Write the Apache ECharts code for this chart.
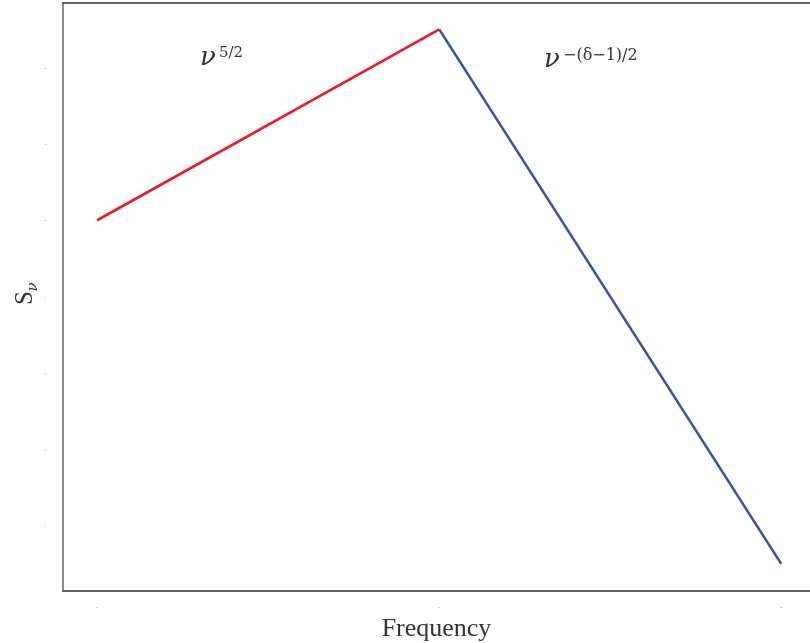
<!DOCTYPE html>
<html>
<head>
<meta charset="utf-8">
<script src="https://cdn.jsdelivr.net/npm/echarts@6/dist/echarts.min.js"></script>
<style>
  html, body { margin: 0; padding: 0; background: #fff; }
  #chart { width: 810px; height: 643px; }
</style>
</head>
<body>
<div id="chart"></div>
<script>
// Broken power-law spectrum, log frequency vs log flux density
const logFreq = [0, 1, 2];
const risingFlux = [4, 6.5];     // optically thick part, slope 5/2
const fallingFlux = [6.5, -0.5]; // optically thin part
const xTicks = [0, 1, 2];
const yTicks = [0, 1, 2, 3, 4, 5, 6];

const serif = '"Liberation Serif", "DejaVu Serif", serif';
const mathSerif = '"DejaVu Serif", "Liberation Serif", serif';

const chart = echarts.init(document.getElementById('chart'));

const tickMark = {
  show: true,
  formatter: () => '-',
  fontSize: 8,
  color: '#b0b0b0'
};

chart.setOption({
  animation: false,
  backgroundColor: '#fff',
  grid: { left: 63, right: 0, top: 3, bottom: 52, containLabel: false, outerBoundsMode: 'none' },
  xAxis: [{
    type: 'value',
    min: -0.1,
    max: 2.084,
    position: 'bottom',
    splitLine: { show: false },
    axisTick: { show: false },
    axisLine: { show: true, onZero: false, lineStyle: { color: '#333', width: 1.5 } },
    axisLabel: Object.assign({ customValues: xTicks, margin: 12 }, tickMark),
    name: 'Frequency',
    nameLocation: 'middle',
    nameGap: 24,
    nameTextStyle: { fontFamily: serif, fontSize: 26, color: '#333', verticalAlign: 'top' }
  }, {
    type: 'value',
    min: -0.1,
    max: 2.084,
    position: 'top',
    splitLine: { show: false },
    axisTick: { show: false },
    axisLabel: { show: false },
    axisLine: { show: true, onZero: false, lineStyle: { color: '#333', width: 1.5 } }
  }],
  yAxis: {
    type: 'value',
    min: -0.855,
    max: 6.845,
    position: 'left',
    splitLine: { show: false },
    axisTick: { show: false },
    axisLine: { show: true, onZero: false, lineStyle: { color: '#8a8a8a', width: 2 } },
    axisLabel: Object.assign({ customValues: yTicks, margin: 16 }, tickMark)
  },
  graphic: [
    // y-axis label S_nu, rotated
    { type: 'text', x: 25, y: 298, rotation: Math.PI / 2,
      style: { text: 'S', font: '25px ' + serif, fill: '#333', align: 'center', verticalAlign: 'middle' } },
    { type: 'text', x: 33, y: 287, rotation: Math.PI / 2,
      style: { text: 'ν', font: 'italic 15px ' + mathSerif, fill: '#333', align: 'center', verticalAlign: 'middle' } },
    // slope annotations
    { type: 'text', x: 200, y: 71,
      style: { text: 'ν', font: 'italic 26px ' + mathSerif, fill: '#333', align: 'left', verticalAlign: 'bottom' } },
    { type: 'text', x: 219, y: 61,
      style: { text: '5/2', font: '15px ' + mathSerif, fill: '#333', align: 'left', verticalAlign: 'bottom' } },
    { type: 'text', x: 544, y: 73,
      style: { text: 'ν', font: 'italic 26px ' + mathSerif, fill: '#333', align: 'left', verticalAlign: 'bottom' } },
    { type: 'text', x: 563, y: 64,
      style: { text: '−(δ−1)/2', font: '16px ' + mathSerif, fill: '#333', align: 'left', verticalAlign: 'bottom' } }
  ],
  series: [{
    type: 'line',
    data: logFreq.slice(0, 2).map((x, i) => [x, risingFlux[i]]),
    showSymbol: false,
    lineStyle: { color: '#ec1c24', width: 2.6 }
  }, {
    type: 'line',
    data: logFreq.slice(1, 3).map((x, i) => [x, fallingFlux[i]]),
    showSymbol: false,
    lineStyle: { color: '#3454a4', width: 2.6 }
  }]
});
</script>
</body>
</html>
